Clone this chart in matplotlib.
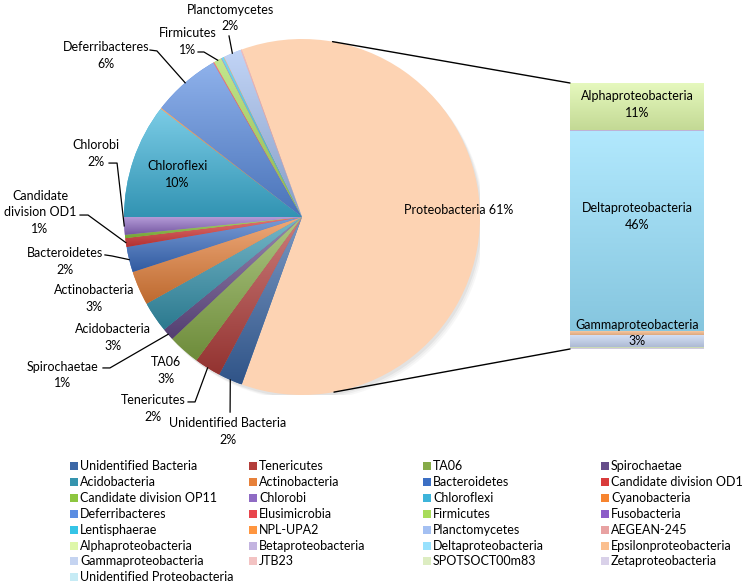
import numpy as np
import matplotlib
matplotlib.use("Agg")
import matplotlib.pyplot as plt
from matplotlib.colors import to_rgb
from matplotlib.patches import Rectangle, Circle, ConnectionPatch

plt.rcParams['font.family'] = ['Lato', 'DejaVu Sans']

# Phyla hors Proteobacteria, dans l'ordre des parts (sens horaire)
phyla = ["Unidentified Bacteria", "Tenericutes", "TA06", "Spirochaetae", "Acidobacteria",
         "Actinobacteria", "Bacteroidetes", "Candidate division OD1", "Candidate division OP11",
         "Chlorobi", "Chloroflexi", "Cyanobacteria", "Deferribacteres", "Elusimicrobia",
         "Firmicutes", "Fusobacteria", "Lentisphaerae", "NPL-UPA2", "Planctomycetes", "AEGEAN-245"]
phyla_pct = [2.2, 2.4, 2.9, 1.1, 2.8, 3.1, 2.3, 0.8, 0.3, 1.6, 10.4, 0.1, 6.2, 0.1,
             0.7, 0.05, 0.2, 0.05, 1.6, 0.1]
phyla_colors = ["#3B67A6", "#B33E3B", "#86AB48", "#664D8A", "#3594AE", "#E7813A",
                "#3C6FC4", "#D93B3B", "#8DC63F", "#8F6BC4", "#3DB4DA", "#F7842F",
                "#5A8DE2", "#E8454C", "#A8DC5A", "#8C5CC8", "#35C4E6", "#FF9640",
                "#A4C0F2", "#E8A2A2"]

# Classes de Proteobacteria (barre de droite)
proteo = ["Alphaproteobacteria", "Betaproteobacteria", "Deltaproteobacteria",
          "Epsilonproteobacteria", "Gammaproteobacteria", "JTB23", "SPOTSOCT00m83",
          "Zetaproteobacteria", "Unidentified Proteobacteria"]
proteo_pct = [10.8, 0.1, 45.9, 1.1, 2.6, 0.05, 0.3, 0.05, 0.1]
proteo_colors = ["#DEF7A9", "#C3B4E0", "#98E1FD", "#FBBF8F", "#C5D4F1", "#F3C3C3",
                 "#DDEDC2", "#D9D1E9", "#C6EBF5"]
proteo_color = "#FDD3B3"

# Etiquettes : position du texte (unités du rayon) et coude du trait de rappel
label_pos = {
    "Planctomycetes": ((-0.404, 1.118), [(-0.410, 1.017)]),
    "Firmicutes": ((-0.643, 0.986), [(-0.584, 0.927), (-0.551, 0.927)]),
    "Deferribacteres": ((-1.101, 0.907), [(-0.854, 0.938), (-0.815, 0.933)]),
    "Chlorobi": ((-1.157, 0.357), [(-1.084, 0.303), (-1.039, 0.303)]),
    "Candidate division OD1": ((-1.472, 0.028), [(-1.247, 0.011), (-1.202, 0.011)]),
    "Bacteroidetes": ((-1.331, -0.250), [(-1.107, -0.213), (-1.067, -0.219)]),
    "Actinobacteria": ((-1.169, -0.458), []),
    "Acidobacteria": ((-1.062, -0.677), []),
    "Spirochaetae": ((-1.348, -0.888), [(-1.118, -0.848), (-1.079, -0.848)]),
    "TA06": ((-0.764, -0.862), []),
    "Tenericutes": ((-0.837, -1.076), [(-0.640, -1.039), (-0.601, -1.039)]),
    "Unidentified Bacteria": ((-0.416, -1.205), [(-0.404, -1.096)]),
}
label_txt = {"Candidate division OD1": "Candidate\ndivision OD1"}
FS = 9.0
LS = 1.45

W, H = 743, 584
cx, cy, R = 302, 217, 178
bx0, by0, bx1, by1 = 570, 83, 704, 349


def degrade(patch, color, axes, clair=0.32, fonce=0.82):
    """Remplit une forme d'un dégradé vertical (clair en haut, foncé en bas)"""
    c = np.array(to_rgb(color))
    haut = c + (1 - c) * clair
    bas = c * fonce
    t = np.linspace(0, 1, 64)[:, None]
    grad = haut * (1 - t) + bas * t
    img = np.repeat(grad[:, None, :], 2, axis=1)
    bb = patch.get_path().get_extents(patch.get_patch_transform())
    im = axes.imshow(img, extent=[bb.x0, bb.x1, bb.y0, bb.y1], origin='upper',
                     interpolation='bilinear', aspect='auto', zorder=patch.get_zorder() + 0.1)
    im.set_clip_path(patch)


fig = plt.figure(figsize=(W / 100, H / 100), dpi=100)

# --- Camembert ---
ax = fig.add_axes([(cx - R) / W, 1 - (cy + R) / H, 2 * R / W, 2 * R / H])
total = sum(phyla_pct) + sum(proteo_pct)
p_share = sum(proteo_pct)
sizes = [p_share] + phyla_pct
start = 180 * p_share / total

for k, a in enumerate([0.10, 0.08, 0.06]):
    ax.add_patch(Circle((0.01 + 0.008 * k, -0.015 - 0.008 * k), 1.0, color='gray', alpha=a,
                        linewidth=0, zorder=0))

wedges, _ = ax.pie(sizes, colors=[proteo_color] + phyla_colors, startangle=start,
                   counterclock=False, radius=1, wedgeprops=dict(linewidth=0))
for w, col in zip(wedges[1:], phyla_colors):
    degrade(w, col, ax)

ax.text(0.88, 0.04, f"Proteobacteria {p_share / total * 100:.0f}%", ha='center', va='center',
        fontsize=FS)

for w, name, v in zip(wedges[1:], phyla, phyla_pct):
    pct = f"{v / total * 100:.0f}%"
    ang = np.deg2rad((w.theta1 + w.theta2) / 2)
    if name == "Chloroflexi":
        ax.text(-0.70, 0.24, f"{name}\n{pct}", ha='center', va='center', fontsize=FS,
                linespacing=LS)
        continue
    if name not in label_pos:
        continue
    (tx, ty), coude = label_pos[name]
    ax.text(tx, ty, f"{label_txt.get(name, name)}\n{pct}", ha='center', va='center',
            fontsize=FS, linespacing=LS, clip_on=False)
    if coude:
        pts = coude + [(np.cos(ang), np.sin(ang))]
        xs, ys = zip(*pts)
        ax.plot(xs, ys, color='black', lw=0.9, clip_on=False, zorder=5)

ax.set_xlim(-1, 1)
ax.set_ylim(-1, 1)
ax.set_aspect('equal')
ax.axis('off')

# --- Barre des Proteobacteria (empilée du haut vers le bas) ---
bax = fig.add_axes([bx0 / W, 1 - by1 / H, (bx1 - bx0) / W, (by1 - by0) / H])
bottoms = p_share - np.cumsum(proteo_pct)
bars = bax.bar([0] * len(proteo_pct), proteo_pct, bottom=bottoms, width=1,
               color=proteo_colors, linewidth=0)
for b, col in zip(bars, proteo_colors):
    degrade(b, col, bax, clair=0.25, fonce=0.88)
bax.set_xlim(-0.5, 0.5)
bax.set_ylim(0, p_share)
bax.axis('off')

bar_lab = {"Alphaproteobacteria": -1.5, "Deltaproteobacteria": -10, "Gammaproteobacteria": -6}
for name, v, b0 in zip(proteo, proteo_pct, bottoms):
    if name in bar_lab:
        bax.annotate(f"{name}\n{v / total * 100:.0f}%", (0, b0 + v / 2),
                     xytext=(0, -bar_lab[name]), textcoords='offset points',
                     ha='center', va='center', fontsize=FS, linespacing=LS,
                     annotation_clip=False)

# traits de liaison tangents au camembert
for (px, py), yb in [((bx0, by0), p_share), ((bx0, by1), 0)]:
    dx, dy = px - cx, cy - py
    d = np.hypot(dx, dy)
    phi = np.arctan2(dy, dx)
    a = phi + np.sign(dy) * np.arccos(R / d)
    con = ConnectionPatch(xyA=(np.cos(a), np.sin(a)), coordsA=ax.transData,
                          xyB=(-0.5, yb), coordsB=bax.transData, color='black', lw=1)
    fig.add_artist(con)

# --- Légende (4 colonnes) ---
col_x = [70, 249, 423, 601]
row_y0, row_dy = 466, 15.9
for i, (lab, col) in enumerate(zip(phyla + proteo, phyla_colors + proteo_colors)):
    r, c = divmod(i, 4)
    x, y = col_x[c], row_y0 + r * row_dy
    fig.add_artist(Rectangle((x / W, 1 - (y + 4) / H), 8 / W, 8 / H, transform=fig.transFigure,
                             facecolor=col, edgecolor='none'))
    fig.text((x + 10) / W, 1 - y / H, lab, ha='left', va='center', fontsize=FS)

fig.savefig("out.png", dpi=100)
